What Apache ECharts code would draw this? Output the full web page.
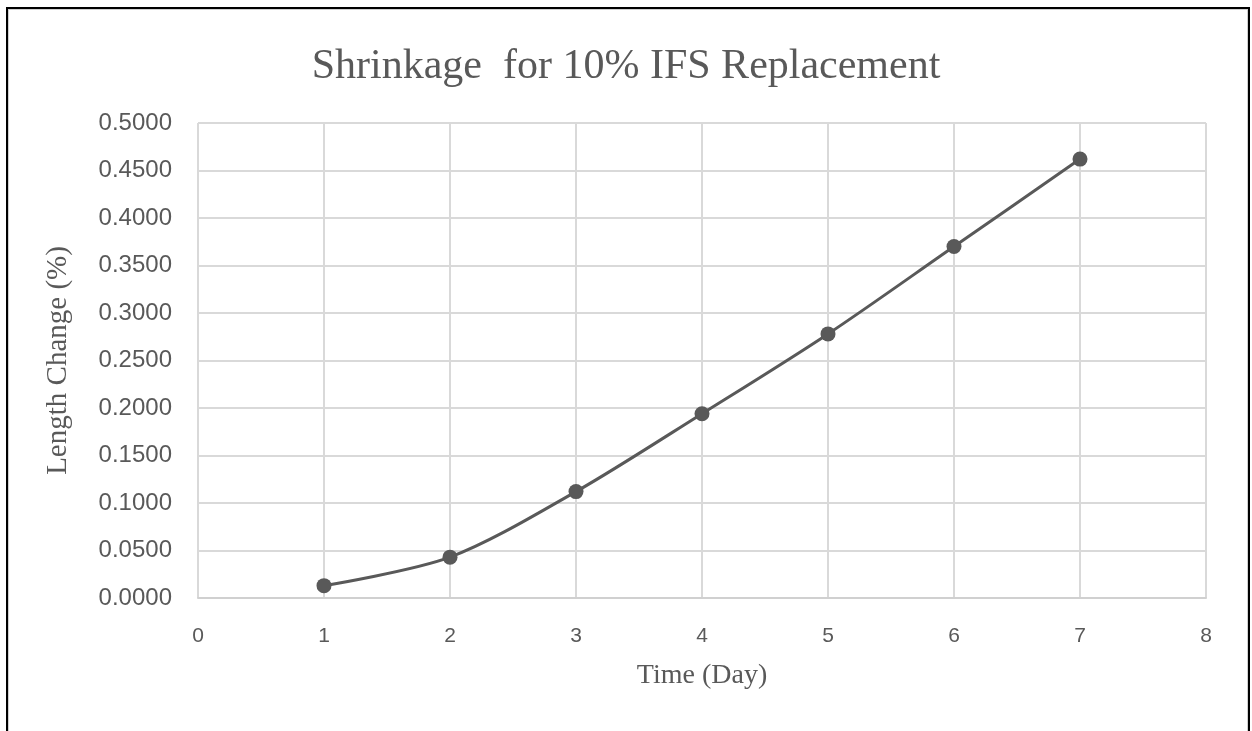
<!DOCTYPE html>
<html>
<head>
<meta charset="utf-8">
<script src="https://cdn.jsdelivr.net/npm/echarts@6/dist/echarts.min.js"></script>
<style>
html,body{margin:0;padding:0;background:#fff;}
#frame{position:absolute;left:6px;top:7px;width:1244px;height:760px;border:2px solid #000;box-sizing:border-box;}
#inner{position:absolute;left:8px;top:9px;width:1240px;height:760px;border:1px solid #d0d0d0;box-sizing:border-box;}
#chart{position:absolute;left:0;top:0;width:1252px;height:731px;}
</style>
</head>
<body>
<div id="frame"></div>
<div id="inner"></div>
<div id="chart"></div>
<script>
var titleText = 'Shrinkage  for 10% IFS Replacement';
var xName = 'Time (Day)';
var yName = 'Length Change (%)';
var days = [1, 2, 3, 4, 5, 6, 7];
var lengthChange = [0.0130, 0.0430, 0.1120, 0.1940, 0.2780, 0.3700, 0.4620];

var chart = echarts.init(document.getElementById('chart'));
chart.setOption({
  animation: false,
  title: {
    text: titleText,
    left: 'center',
    top: 41,
    textStyle: {fontFamily: 'Liberation Serif', fontSize: 42, fontWeight: 'normal', color: '#595959'}
  },
  grid: {left: 198, right: 46, top: 123, bottom: 133},
  xAxis: {
    type: 'value', min: 0, max: 8, interval: 1,
    name: xName, nameLocation: 'middle', nameGap: 64,
    nameTextStyle: {fontFamily: 'Liberation Serif', fontSize: 28, color: '#595959'},
    axisLine: {show: true, lineStyle: {color: '#d0d0d0', width: 2}},
    axisTick: {show: false},
    axisLabel: {fontFamily: 'Liberation Sans', fontSize: 21, color: '#595959', margin: 28},
    splitLine: {show: true, lineStyle: {color: '#d9d9d9', width: 2}}
  },
  yAxis: {
    type: 'value', min: 0, max: 0.5, interval: 0.05,
    name: yName, nameLocation: 'middle', nameGap: 125,
    nameTextStyle: {fontFamily: 'Liberation Serif', fontSize: 29, color: '#595959'},
    axisLine: {show: false},
    axisTick: {show: false},
    axisLabel: {fontFamily: 'Liberation Sans', fontSize: 24, color: '#595959', margin: 26,
      formatter: function (v) { return v.toFixed(4); }},
    splitLine: {show: true, lineStyle: {color: '#d9d9d9', width: 2}}
  },
  series: [{
    type: 'line',
    data: days.map(function (d, i) { return [d, lengthChange[i]]; }),
    smooth: 0.3,
    symbol: 'circle',
    symbolSize: 15,
    lineStyle: {color: '#595959', width: 3},
    itemStyle: {color: '#595959'}
  }]
});
</script>
</body>
</html>
